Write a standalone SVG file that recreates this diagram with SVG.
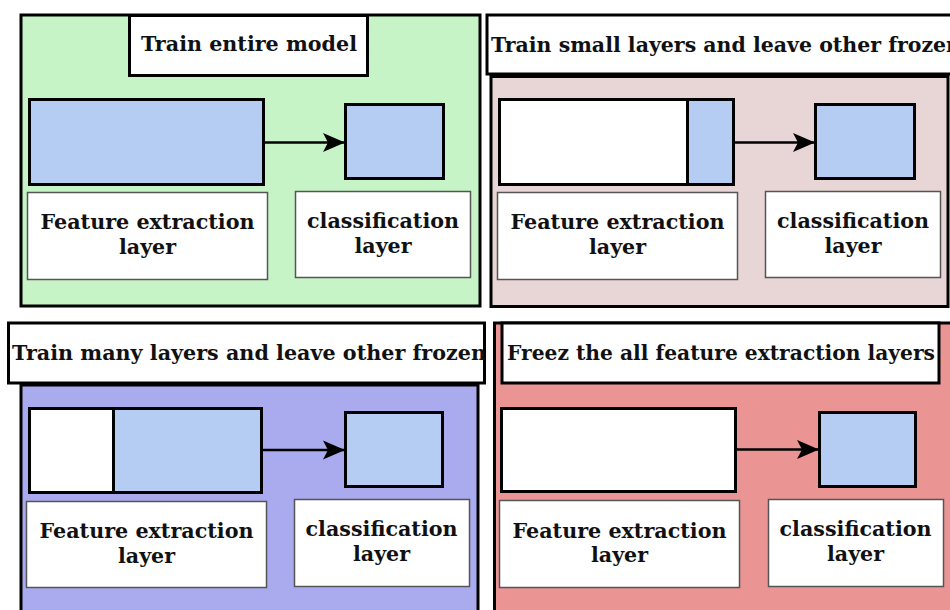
<svg xmlns="http://www.w3.org/2000/svg" width="950" height="610" viewBox="0 0 950 610">
<defs>
<style>
.panel{stroke:#000;stroke-width:3}
.title{fill:#fff;stroke:#000;stroke-width:3}
.blk{stroke:#000;stroke-width:3}
.blue{fill:#b5cdf2}
.white{fill:#fff}
.lbl{fill:#fff;stroke:#555;stroke-width:1.5}
.t{font-family:"DejaVu Serif",serif;font-weight:bold;font-size:21px;fill:#111}
.m{text-anchor:middle}
.conn{stroke:#000;stroke-width:2.5;fill:none}
</style>
<marker id="ah" markerUnits="userSpaceOnUse" markerWidth="22" markerHeight="22" viewBox="0 0 22 22" refX="21" refY="11" orient="auto">
<path d="M0,1.5 L22,11 L0,20.5 L5,11 Z" fill="#000"/>
</marker>
<clipPath id="c3"><rect x="8" y="322" width="477" height="62"/></clipPath>
</defs>
<rect width="950" height="610" fill="#fff"/>

<g id="panel1">
<rect class="panel" x="21" y="15" width="459" height="291" fill="#c6f4c6"/>
<rect class="title" x="129.5" y="15.5" width="238" height="60"/>
<text class="t m" x="249" y="51" textLength="216" lengthAdjust="spacingAndGlyphs">Train entire model</text>
</g>
<g id="p1-feature"><rect class="blk blue" x="29.5" y="99.5" width="234" height="85"/></g>
<g id="p1-class"><rect class="blk blue" x="345.5" y="104.5" width="98" height="74"/></g>
<g id="p1-feature-label"><rect class="lbl" x="27.5" y="192.5" width="240" height="87"/>
<text class="t m" x="147.5" y="229" textLength="214" lengthAdjust="spacingAndGlyphs">Feature extraction</text>
<text class="t m" x="147.5" y="253.5" textLength="57" lengthAdjust="spacingAndGlyphs">layer</text></g>
<g id="p1-class-label"><rect class="lbl" x="295.5" y="191.5" width="175" height="86"/>
<text class="t m" x="383" y="228" textLength="152" lengthAdjust="spacingAndGlyphs">classification</text>
<text class="t m" x="383" y="252.5" textLength="57" lengthAdjust="spacingAndGlyphs">layer</text></g>

<g id="panel2">
<rect class="panel" x="491" y="76.5" width="457" height="230" fill="#e8d5d5"/>
<rect class="title" x="487" y="15" width="470" height="59"/>
<text class="t" x="491" y="52" textLength="470" lengthAdjust="spacingAndGlyphs">Train small layers and leave other frozen</text>
</g>
<g id="p2-feature"><rect class="white" x="499.5" y="99.5" width="188" height="85"/><rect class="blue" x="687.5" y="99.5" width="46" height="85"/>
<line class="blk" x1="687.5" y1="99.5" x2="687.5" y2="184.5"/><rect class="blk" fill="none" x="499.5" y="99.5" width="234" height="85"/></g>
<g id="p2-class"><rect class="blk blue" x="815.5" y="104.5" width="99" height="74"/></g>
<g id="p2-feature-label"><rect class="lbl" x="497.5" y="192.5" width="240" height="87"/>
<text class="t m" x="617.5" y="229" textLength="214" lengthAdjust="spacingAndGlyphs">Feature extraction</text>
<text class="t m" x="617.5" y="253.5" textLength="57" lengthAdjust="spacingAndGlyphs">layer</text></g>
<g id="p2-class-label"><rect class="lbl" x="765.5" y="191.5" width="175" height="86"/>
<text class="t m" x="853" y="228" textLength="152" lengthAdjust="spacingAndGlyphs">classification</text>
<text class="t m" x="853" y="252.5" textLength="57" lengthAdjust="spacingAndGlyphs">layer</text></g>

<g id="panel3">
<rect class="panel" x="21" y="385" width="457" height="240" fill="#aaaaee"/>
<rect class="title" x="8.5" y="323" width="476" height="60"/>
<text class="t" x="12" y="360" textLength="474" lengthAdjust="spacingAndGlyphs" clip-path="url(#c3)">Train many layers and leave other frozen</text>
</g>
<g id="p3-feature"><rect class="white" x="29.5" y="408.5" width="84" height="84"/><rect class="blue" x="113.5" y="408.5" width="148" height="84"/>
<line class="blk" x1="113.5" y1="408.5" x2="113.5" y2="492.5"/><rect class="blk" fill="none" x="29.5" y="408.5" width="232" height="84"/></g>
<g id="p3-class"><rect class="blk blue" x="345.5" y="412.5" width="97" height="74"/></g>
<g id="p3-feature-label"><rect class="lbl" x="26.5" y="501.5" width="240" height="86"/>
<text class="t m" x="146.5" y="538" textLength="214" lengthAdjust="spacingAndGlyphs">Feature extraction</text>
<text class="t m" x="146.5" y="562.5" textLength="57" lengthAdjust="spacingAndGlyphs">layer</text></g>
<g id="p3-class-label"><rect class="lbl" x="294.5" y="499.5" width="175" height="87"/>
<text class="t m" x="381.5" y="536" textLength="152" lengthAdjust="spacingAndGlyphs">classification</text>
<text class="t m" x="381.5" y="560.5" textLength="57" lengthAdjust="spacingAndGlyphs">layer</text></g>

<g id="panel4">
<rect class="panel" x="494.5" y="323" width="470" height="300" fill="#eb9494"/>
<rect class="title" x="502" y="323" width="437" height="60"/>
<text class="t" x="507" y="360" textLength="428" lengthAdjust="spacingAndGlyphs">Freez the all feature extraction layers</text>
</g>
<g id="p4-feature"><rect class="blk white" x="501.5" y="408.5" width="234" height="83"/></g>
<g id="p4-class"><rect class="blk blue" x="819.5" y="412.5" width="96" height="74"/></g>
<g id="p4-feature-label"><rect class="lbl" x="499.5" y="500.5" width="240" height="87"/>
<text class="t m" x="619.5" y="537.5" textLength="214" lengthAdjust="spacingAndGlyphs">Feature extraction</text>
<text class="t m" x="619.5" y="562" textLength="57" lengthAdjust="spacingAndGlyphs">layer</text></g>
<g id="p4-class-label"><rect class="lbl" x="768.5" y="499.5" width="175" height="87"/>
<text class="t m" x="855.5" y="536" textLength="152" lengthAdjust="spacingAndGlyphs">classification</text>
<text class="t m" x="855.5" y="560.5" textLength="57" lengthAdjust="spacingAndGlyphs">layer</text></g>

<g id="connectors">
<line class="conn" x1="265" y1="142.5" x2="344" y2="142.5" marker-end="url(#ah)"/>
<line class="conn" x1="735" y1="142.5" x2="814" y2="142.5" marker-end="url(#ah)"/>
<line class="conn" x1="263" y1="450" x2="344" y2="450" marker-end="url(#ah)"/>
<line class="conn" x1="737" y1="449.5" x2="818" y2="449.5" marker-end="url(#ah)"/>
</g>
</svg>
